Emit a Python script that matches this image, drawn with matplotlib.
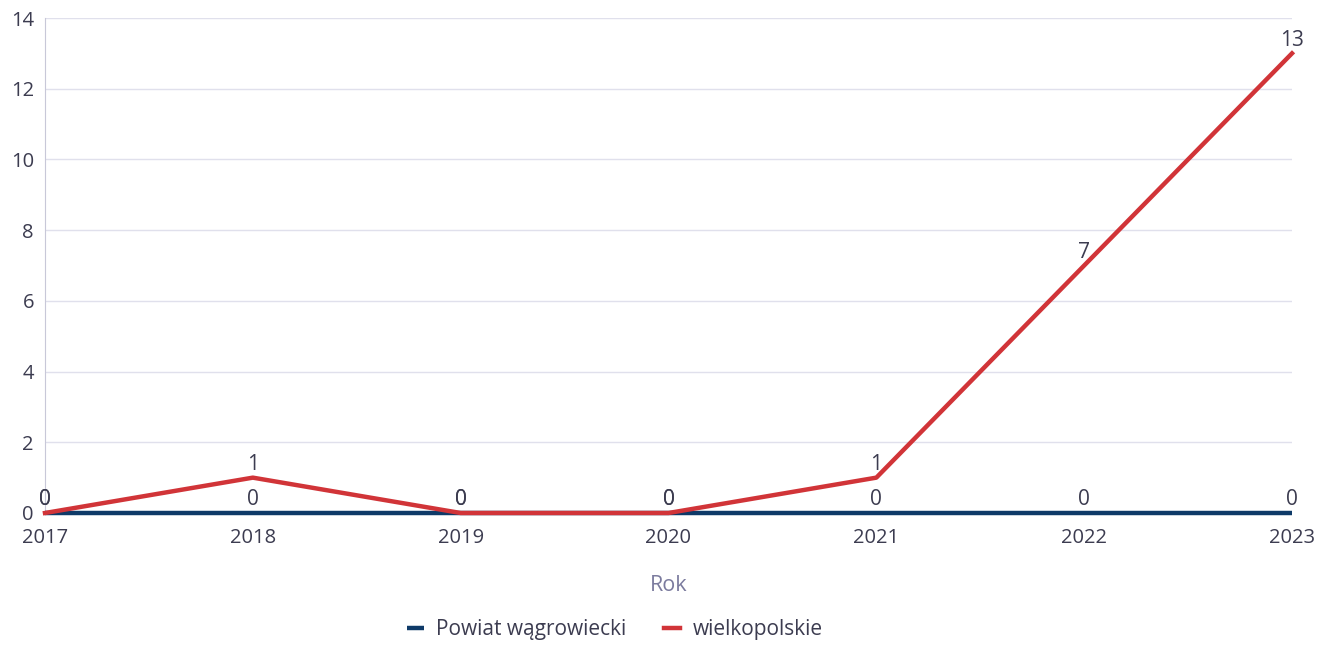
import matplotlib.pyplot as plt

plt.rcParams['font.family'] = ['Open Sans', 'DejaVu Sans']

years = [2017, 2018, 2019, 2020, 2021, 2022, 2023]
powiat = [0, 0, 0, 0, 0, 0, 0]
wielkopolskie = [0, 1, 0, 0, 1, 7, 13]

text_col = '#3c3c50'
fig = plt.figure(figsize=(13.26, 6.47), dpi=100)
ax = fig.add_axes([45/1326, 1-513/647, (1292-45)/1326, (513-18)/647])

ax.plot(years, powiat, color='#0e3a68', lw=3.2, label='Powiat wągrowiecki',
        solid_capstyle='butt', zorder=3, clip_on=False)
ax.plot(years, wielkopolskie, color='#d13438', lw=3.2, label='wielkopolskie',
        zorder=4, clip_on=False)

for x, y in zip(years, powiat):
    ax.annotate(str(y), (x, y), xytext=(0, 2), textcoords='offset points',
                ha='center', va='bottom', fontsize=15, color=text_col, zorder=5)
for x, y in zip(years, wielkopolskie):
    ax.annotate(str(y), (x, y), xytext=(0, 2), textcoords='offset points',
                ha='center', va='bottom', fontsize=15, color=text_col, zorder=5)

ax.set_xlim(2017, 2023)
ax.set_ylim(0, 14)
ax.set_yticks(range(0, 15, 2))
ax.set_xticks(years)
ax.grid(axis='y', color='#e0e0ec', lw=1)
ax.set_axisbelow(True)
for s in ['top', 'right', 'bottom']:
    ax.spines[s].set_visible(False)
ax.spines['left'].set_color('#c8c8d8')
ax.tick_params(length=0, labelsize=14.5, colors=text_col)
ax.tick_params(axis='y', pad=8)
ax.tick_params(axis='x', pad=11)
ax.set_xlabel('Rok', fontsize=15.5, color='#7b7b9e', labelpad=19)

leg = fig.legend(loc='center', bbox_to_anchor=(615/1326, 1-630/647), ncol=2, frameon=False,
                 fontsize=15, handlelength=0.8, handletextpad=0.6, columnspacing=1.8)
for t in leg.get_texts():
    t.set_color(text_col)

fig.savefig('out.png', dpi=100)
